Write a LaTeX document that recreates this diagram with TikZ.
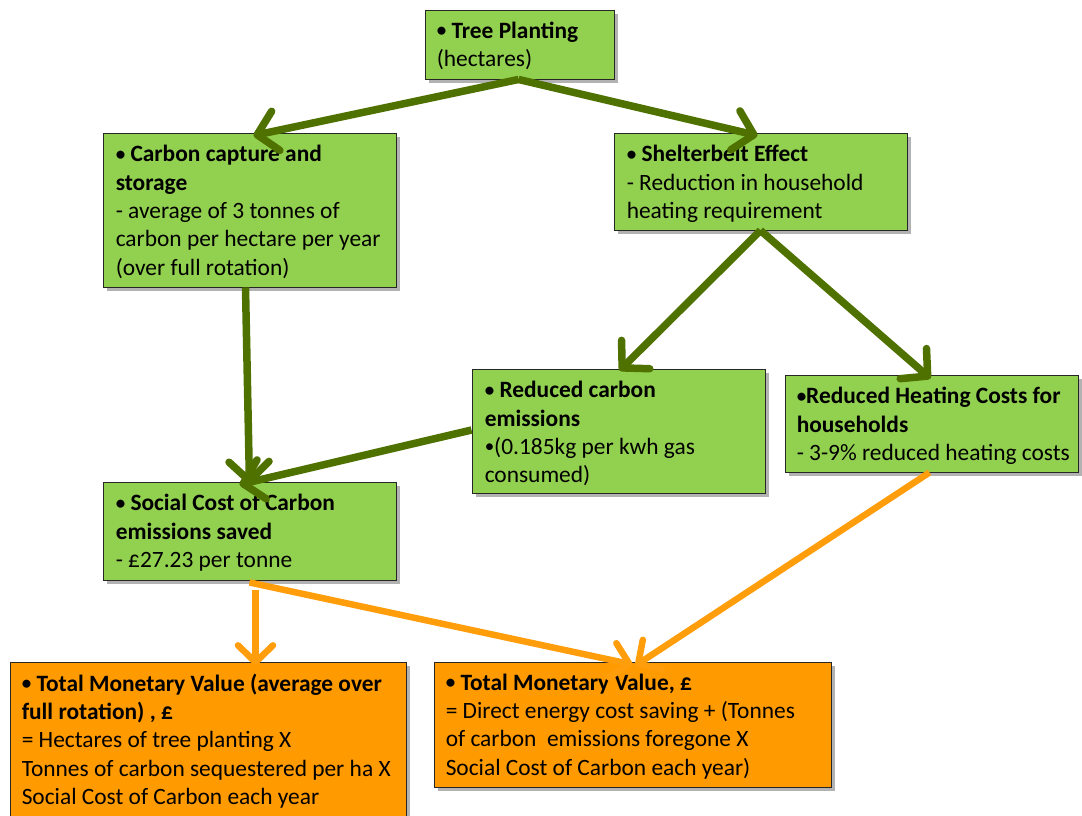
\documentclass[tikz,border=0pt]{standalone}
\usepackage{fontspec}
\setmainfont{Carlito}
\usetikzlibrary{arrows.meta,shadows}
\definecolor{boxgreen}{HTML}{92D050}
\definecolor{boxorange}{HTML}{FF9A00}
\definecolor{arrgreen}{HTML}{4F7100}
\definecolor{arrorange}{HTML}{FF9D0A}
\newcommand{\bul}{\raisebox{1.6pt}{\fontsize{19}{19}\selectfont •}}
\tikzset{
  box/.style={draw=black!85, line width=0.9pt, inner sep=0pt,
    drop shadow={shadow xshift=4pt, shadow yshift=-4pt, fill=black, opacity=0.3}},
  gbox/.style={box, fill=boxgreen},
  obox/.style={box, fill=boxorange},
  txt/.style={anchor=north west, inner sep=0pt, align=left,
    font=\fontsize{23.4}{28.4}\selectfont},
  garr/.style={draw=arrgreen, line width=7.5pt,
    -{Straight Barb[length=19pt, width=40pt, round]}},
  oarr/.style={draw=arrorange, line width=6.5pt,
    -{Straight Barb[length=17pt, width=35pt, round]}},
}
\begin{document}
\begin{tikzpicture}[x=1pt, y=-1pt]
\useasboundingbox (0,0) rectangle (1082,815);

% boxes
\node[gbox, minimum width=189pt, minimum height=69pt] (tp) at (519.5,44.5) {};
\node[gbox, minimum width=293pt, minimum height=154pt] (cc) at (249.5,210) {};
\node[gbox, minimum width=293pt, minimum height=97pt] (sb) at (760.5,181.5) {};
\node[gbox, minimum width=293pt, minimum height=124pt] (rce) at (618.5,431) {};
\node[gbox, minimum width=293pt, minimum height=97pt] (rhc) at (931.5,423.5) {};
\node[gbox, minimum width=293pt, minimum height=98pt] (sc) at (249.5,531) {};
\node[obox, minimum width=396pt, minimum height=170pt] (tmvl) at (208,747) {};
\node[obox, minimum width=397pt, minimum height=125pt] (tmvr) at (632.5,724.5) {};

% texts
\node[txt] (tpt) at ([xshift=12pt, yshift=-12pt]tp.north west)
  {\textbf{\bul\ Tree Planting}\\(hectares)};
\node[txt] (cct) at ([xshift=13pt, yshift=-12.5pt]cc.north west)
  {\textbf{\bul\ Carbon capture and}\\\textbf{storage}\\- average of 3 tonnes of\\carbon per hectare per year\\(over full rotation)};
\node[txt] (sbt) at ([xshift=13pt, yshift=-12.5pt]sb.north west)
  {\textbf{\bul\ Shelterbelt Effect}\\- Reduction in household\\heating requirement};
\node[txt] (rcet) at ([xshift=13pt, yshift=-12.5pt]rce.north west)
  {\textbf{\bul\ Reduced carbon}\\\textbf{emissions}\\\bul(0.185kg per kwh gas\\consumed)};
\node[txt] (rhct) at ([xshift=12pt, yshift=-12.5pt]rhc.north west)
  {\textbf{\bul Reduced Heating Costs for}\\\textbf{households}\\- 3-9\% reduced heating costs};
\node[txt] (sct) at ([xshift=13pt, yshift=-12.5pt]sc.north west)
  {\textbf{\bul\ Social Cost of Carbon}\\\textbf{emissions saved}\\- £27.23 per tonne};
\node[txt] (tmvlt) at ([xshift=12pt, yshift=-12pt]tmvl.north west)
  {\textbf{\bul\ Total Monetary Value (average over}\\\textbf{full rotation) , £}\\= Hectares of tree planting X\\Tonnes of carbon sequestered per ha X\\Social Cost of Carbon each year};
\node[txt] (tmvrt) at ([xshift=12pt, yshift=-12pt]tmvr.north west)
  {\textbf{\bul\ Total Monetary Value, £}\\= Direct energy cost saving + (Tonnes\\of carbon\ \ emissions foregone X\\Social Cost of Carbon each year)};

% green connectors
\draw[garr] ([xshift=-1pt]tp.south) -- ([xshift=4pt, yshift=-3pt]cc.north);
\draw[garr] ([xshift=-1pt]tp.south) -- ([xshift=-3pt, yshift=-3pt]sb.north);
\draw[garr] (sb.south) -- ([xshift=1pt, yshift=-2pt]rce.north);
\draw[garr] (sb.south) -- ([xshift=-1pt, yshift=-4pt]rhc.north);
\draw[garr] ([xshift=-4pt]cc.south) -- ([yshift=-3pt]sc.north);
\draw[garr] ([yshift=1pt]rce.west) -- ([xshift=-10pt, yshift=-3pt]sc.north);

% orange connectors
\draw[oarr] ([yshift=-2pt]sc.south) -- ([yshift=-3pt]tmvr.north);
\draw[oarr] ([xshift=6pt, yshift=-10pt]sc.south) -- ([xshift=6pt, yshift=-4pt]sc.south |- tmvl.north);
\draw[oarr] ([xshift=-2pt]rhc.south) -- ([xshift=3pt, yshift=-4pt]tmvr.north);
\end{tikzpicture}
\end{document}
